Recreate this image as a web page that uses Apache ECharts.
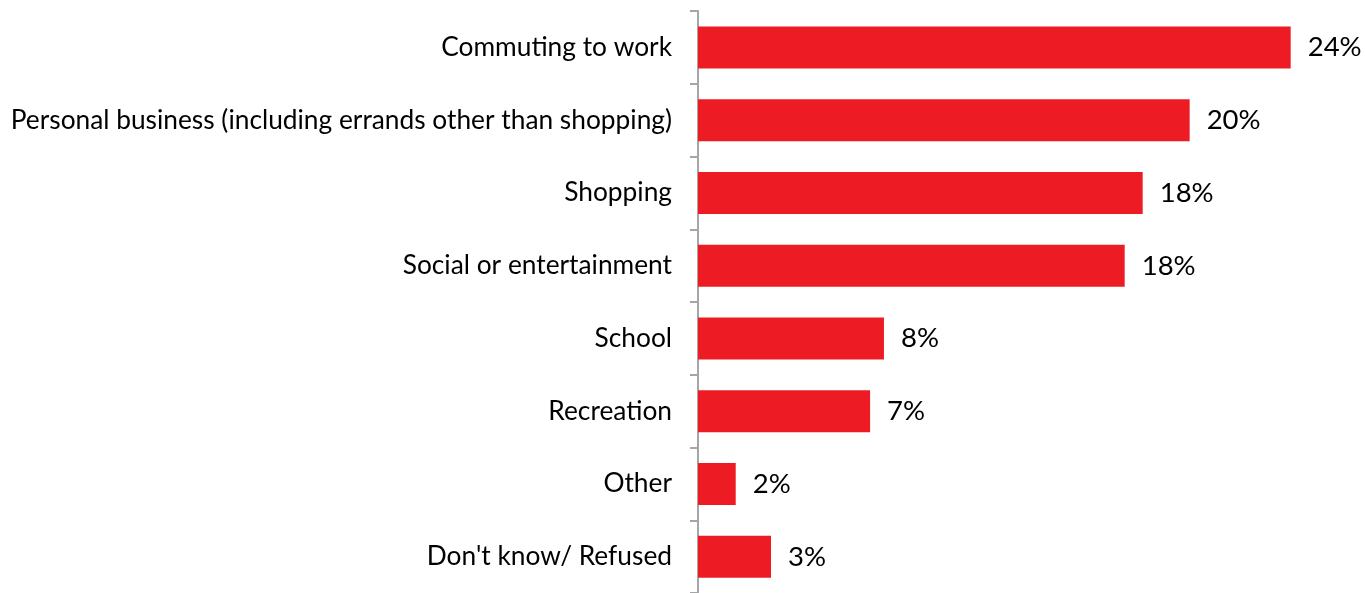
<!DOCTYPE html>
<html>
<head>
<meta charset="utf-8">
<title>Trip purposes</title>
<script src="https://cdn.jsdelivr.net/npm/echarts@6/dist/echarts.min.js"></script>
<style>
  html, body { margin: 0; padding: 0; background: #ffffff; }
  #chart { width: 1365px; height: 593px; }
</style>
</head>
<body>
<div id="chart"></div>
<script>
// Trip purpose categories, top to bottom
const categories = [
  "Commuting to work",
  "Personal business (including errands other than shopping)",
  "Shopping",
  "Social or entertainment",
  "School",
  "Recreation",
  "Other",
  "Don't know/ Refused"
];

// Share of respondents (percent)
const shares = [24.35, 20.2, 18.27, 17.53, 7.64, 7.07, 1.55, 3.0];

const FONT = "Lato";
const RED = "#ED1C24";

const chart = echarts.init(document.getElementById("chart"), null, { renderer: "canvas" });

chart.setOption({
  animation: false,
  backgroundColor: "#ffffff",
  grid: {
    left: 698,
    top: 11,
    width: 608.5,
    height: 587,
    containLabel: false
  },
  xAxis: {
    type: "value",
    min: 0,
    max: 25,
    show: false
  },
  yAxis: {
    type: "category",
    data: categories,
    inverse: true,
    axisLine: { show: true, lineStyle: { color: "#a6a6a6", width: 2 } },
    axisTick: { show: true, length: 8, lineStyle: { color: "#a6a6a6", width: 2 } },
    axisLabel: {
      margin: 26,
      color: "#000000",
      fontFamily: FONT,
      fontSize: 26.3
    },
    splitLine: { show: false }
  },
  series: [{
    type: "bar",
    data: shares,
    barWidth: 42,
    itemStyle: { color: RED },
    label: {
      show: true,
      position: "right",
      distance: 17,
      color: "#000000",
      fontFamily: FONT,
      fontSize: 27.5,
      formatter: p => Math.round(p.value) + "%"
    }
  }]
});
</script>
</body>
</html>
